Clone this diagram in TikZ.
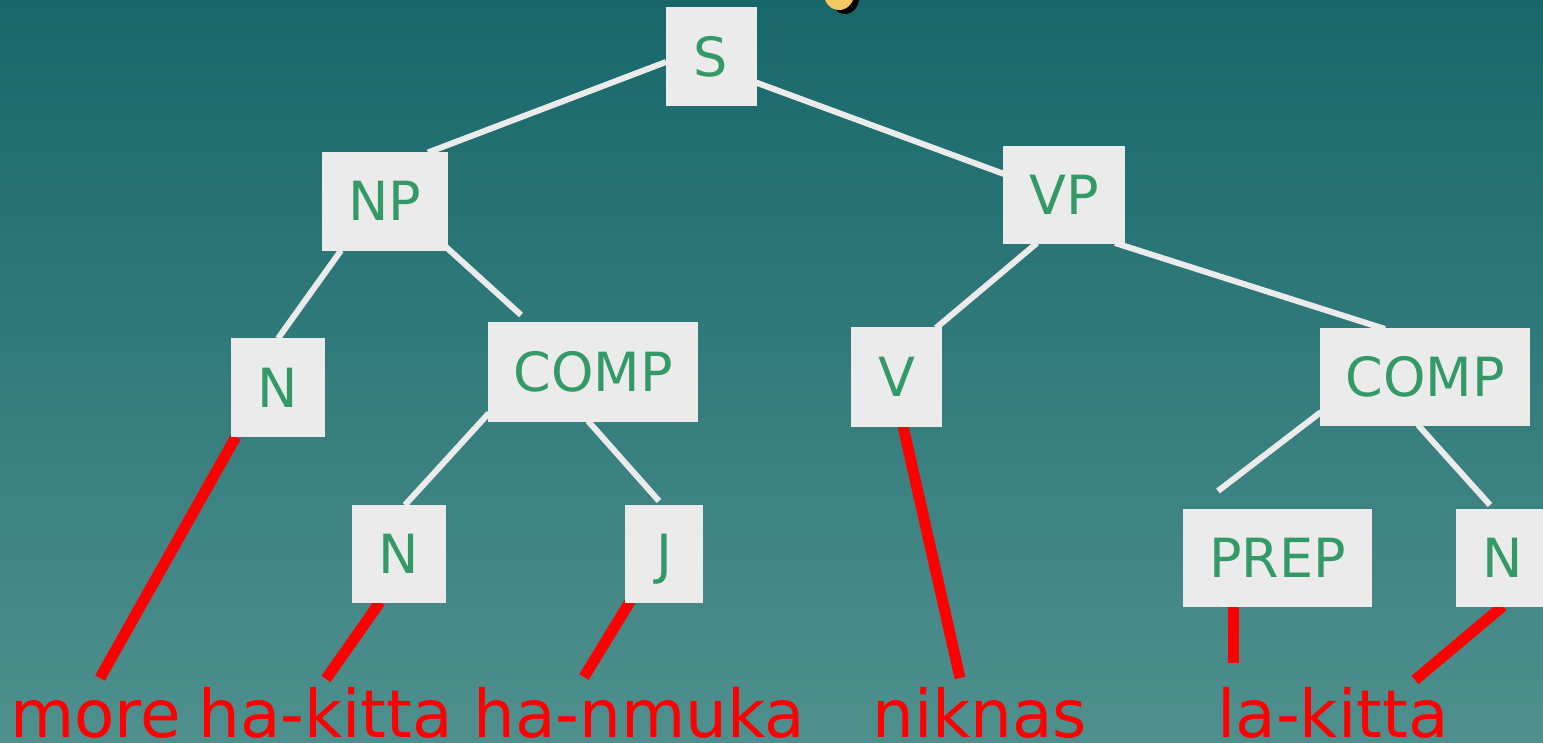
\documentclass[tikz,border=0pt]{standalone}
\usepackage{fontspec}
\setmainfont{DejaVu Sans}
\definecolor{bgtop}{HTML}{17676A}
\definecolor{bgbot}{HTML}{4F908E}
\definecolor{boxfill}{HTML}{EBEBEB}
\definecolor{boxtext}{HTML}{339966}
\definecolor{wordred}{HTML}{FF0000}
\definecolor{blobyellow}{HTML}{F2C864}
\pgfdeclarelayer{bg}
\pgfsetlayers{bg,main}
\tikzset{
  cat/.style={fill=boxfill, draw=none, text=boxtext, font=\fontsize{54}{60}\selectfont,
    inner sep=0pt, outer sep=0pt, text height=39pt, text depth=0pt},
  branch/.style={draw=boxfill, line width=6pt},
  leaf/.style={draw=wordred, line width=11pt},
  word/.style={text=wordred, font=\fontsize{66}{78}\selectfont, inner sep=0pt, anchor=base west}
}
\begin{document}
\begin{tikzpicture}[x=1pt,y=-1pt]
\useasboundingbox (0,0) rectangle (1543,743);
% nodes
\node[cat, minimum width=91, minimum height=99] (S) at (711,57) {S};
\node[cat, minimum width=126, minimum height=99] (NP) at (385,201.5) {NP};
\node[cat, minimum width=122, minimum height=98] (VP) at (1064,195) {VP};
\node[cat, minimum width=94, minimum height=99] (N1) at (278,387.5) {N};
\node[cat, minimum width=210, minimum height=99] (COMP1) at (593,372) {COMP};
\node[cat, minimum width=91, minimum height=100] (V) at (896.5,377) {V};
\node[cat, minimum width=210, minimum height=98] (COMP2) at (1425,377) {COMP};
\node[cat, minimum width=94, minimum height=98] (N2) at (399,554) {N};
\node[cat, minimum width=78, minimum height=98] (J) at (664,554) {J};
\node[cat, minimum width=189, minimum height=98] (PREP) at (1277.5,558) {PREP};
\node[cat, minimum width=94, minimum height=98] (N3) at (1503,558) {N};
% words
\node[word] (w1) at (10,737) {more};
\node[word] (w2) at (198,737) {ha-kitta};
\node[word] (w3) at (473,737) {ha-nmuka};
\node[word] (w4) at (872,737) {niknas};
\node[word] (w5) at (1217,737) {la-kitta};
% free ends
\coordinate (e4) at (521,315);
\coordinate (e8) at (659,501);
\coordinate (e9) at (1218,491);
\coordinate (e10) at (1490,505);
\coordinate (r1) at (100,678);
\coordinate (r2) at (326,679);
\coordinate (r3) at (584,677);
\coordinate (r4) at (960,678);
\coordinate (r5) at (1233,663);
\coordinate (r6) at (1415,680);
\begin{pgfonlayer}{bg}
\fill[top color=bgtop, bottom color=bgbot] (0,0) rectangle (1543,743);
\begin{scope}
\clip (0,0) rectangle (1543,743);
\fill[black] (845,-2) ellipse [x radius=14, y radius=16];
\fill[blobyellow] (839,-6) ellipse [x radius=15, y radius=16];
\end{scope}
% white branches
\draw[branch] ([shift={(-45,5)}]S.center) -- ([shift={(43,-49)}]NP.center);
\draw[branch] ([shift={(45,25.5)}]S.center) -- ([shift={(-60,-21)}]VP.center);
\draw[branch] ([shift={(-44,49)}]NP.center) -- ([shift={(0,-49)}]N1.center);
\draw[branch] ([shift={(61,45.5)}]NP.center) -- (e4);
\draw[branch] ([shift={(-27,48)}]VP.center) -- ([shift={(39.5,-49)}]V.center);
\draw[branch] ([shift={(51,48)}]VP.center) -- ([shift={(-40,-48)}]COMP2.center);
\draw[branch] ([shift={(-104,41)}]COMP1.center) -- ([shift={(6,-49)}]N2.center);
\draw[branch] ([shift={(-5,49)}]COMP1.center) -- (e8);
\draw[branch] ([shift={(-104,35)}]COMP2.center) -- (e9);
\draw[branch] ([shift={(-7,48)}]COMP2.center) -- (e10);
% red leaves
\draw[leaf] ([shift={(-42,49)}]N1.center) -- (r1);
\draw[leaf] ([shift={(-19,48)}]N2.center) -- (r2);
\draw[leaf] ([shift={(-33,46)}]J.center) -- (r3);
\draw[leaf] ([shift={(6.5,49)}]V.center) -- (r4);
\draw[leaf] ([shift={(-44.5,48)}]PREP.center) -- (r5);
\draw[leaf] ([shift={(0,48)}]N3.center) -- (r6);
\end{pgfonlayer}
\end{tikzpicture}
\end{document}
